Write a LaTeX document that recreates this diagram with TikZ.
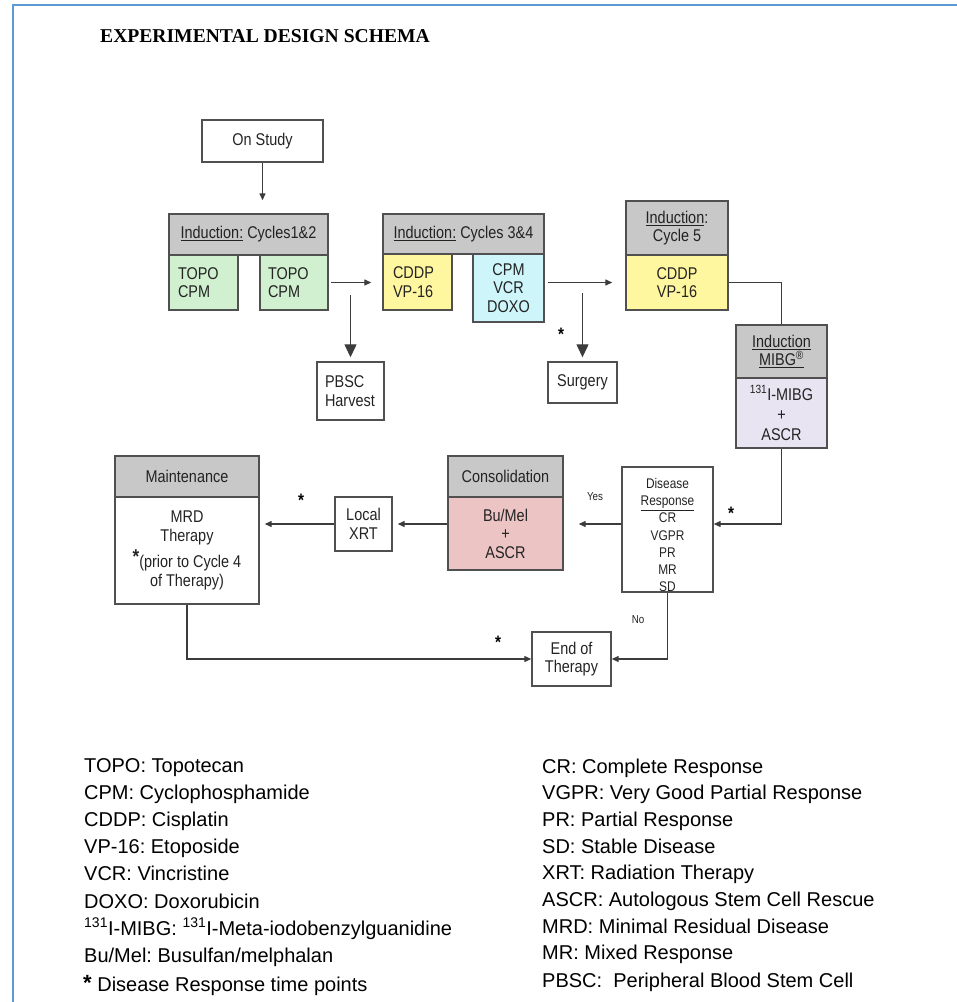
\documentclass[tikz,border=0pt]{standalone}
\usepackage{fontspec}
\setmainfont{Liberation Sans}
\newfontfamily\dfont[FakeStretch=0.85]{Liberation Sans}
\newfontfamily\titlefont{Liberation Serif}
\usetikzlibrary{arrows.meta}
\definecolor{frameblue}{RGB}{91,155,213}
\definecolor{hdrgray}{RGB}{200,200,200}
\definecolor{grn}{RGB}{208,240,208}
\definecolor{ylw}{RGB}{255,246,160}
\definecolor{cyn}{RGB}{205,245,250}
\definecolor{lav}{RGB}{232,228,242}
\definecolor{pnk}{RGB}{236,196,196}
\definecolor{edge}{RGB}{80,80,80}
\definecolor{wire}{RGB}{60,60,60}
\definecolor{ink}{RGB}{35,35,35}
\frenchspacing
\begin{document}
\frenchspacing
\begin{tikzpicture}[x=1pt,y=-1pt,
  box/.style={draw=edge, line width=1.4pt, inner sep=0pt, align=center, text=ink,
    font=\dfont\fontsize{17}{18.5}\selectfont},
  hdr/.style={box, fill=hdrgray},
  wired/.style={draw=wire, line width=1.3pt},
  arr/.style={wired, -{Triangle[length=7pt,width=6pt]}},
  bigarr/.style={wired, -{Triangle[length=13pt,width=12pt]}},
  star/.style={font=\dfont\fontsize{18}{18}\bfseries\selectfont, inner sep=0pt, anchor=base, text=black},
  lbl/.style={font=\dfont\fontsize{11.5}{12}\selectfont, inner sep=0pt, text=ink},
  leg/.style={font=\fontsize{20}{22}\selectfont, inner sep=0pt, anchor=base west, text=black},
]
\useasboundingbox (0,0) rectangle (957,1002);
\draw[frameblue, line width=2pt] (13,1002) -- (13,5) -- (957,5);

\node[anchor=base west, inner sep=0pt, font=\titlefont\bfseries\fontsize{19.6}{20}\selectfont] (title) at (100,42) {EXPERIMENTAL DESIGN SCHEMA};

% boxes
\node[box, minimum width=121pt, minimum height=42pt] (onstudy) at (262.5,141) {On Study};

\node[hdr, minimum width=159pt, minimum height=41pt] (h12) at (248.5,234.5) {\underline{Induction:} Cycles1\&2};
\node[box, fill=grn, minimum width=69pt, minimum height=55pt, text width=51pt, align=left] (g1a) at (203.5,282.5) {TOPO\\CPM};
\node[box, fill=grn, minimum width=68pt, minimum height=55pt, text width=52pt, align=left] (g1b) at (294,282.5) {TOPO\\CPM};

\node[hdr, minimum width=161pt, minimum height=40pt] (h34) at (463.5,234) {\underline{Induction:} Cycles 3\&4};
\node[box, fill=ylw, minimum width=69pt, minimum height=56pt, text width=49pt, align=left] (y34) at (417.5,282) {CDDP\\VP-16};
\node[box, fill=cyn, minimum width=71pt, minimum height=68pt] (c34) at (508.5,288) {CPM\\VCR\\DOXO};

\node[hdr, minimum width=102pt, minimum height=54pt] (h5) at (677,228) {\underline{Induction}:\\Cycle 5};
\node[box, fill=ylw, minimum width=102pt, minimum height=55pt] (y5) at (677,282.5) {CDDP\\VP-16};

\node[hdr, minimum width=91pt, minimum height=53pt] (hm) at (781.5,351.5) {\underline{Induction}\\\underline{MIBG\textsuperscript{®}}};
\node[box, fill=lav, minimum width=91pt, minimum height=70pt, font=\dfont\fontsize{17}{20}\selectfont] (bm) at (781.5,413) {\textsuperscript{131}I-MIBG\\+\\ASCR};

\node[box, minimum width=67pt, minimum height=58pt, text width=51pt, align=left] (pbsc) at (350.5,391) {PBSC\\Harvest};
\node[box, minimum width=69pt, minimum height=41pt] (surg) at (582.5,382.5) {Surgery};

\node[box, minimum width=91pt, minimum height=125pt] (dr) at (667.5,529.5) {};
\node[font=\dfont\fontsize{14}{17.3}\selectfont, align=center, inner sep=0pt, text=ink] (drtext) at (667.5,535) {Disease\\\underline{Response}\\CR\\VGPR\\PR\\MR\\SD};

\node[hdr, minimum width=115pt, minimum height=41pt] (ch) at (505.5,476.5) {Consolidation};
\node[box, fill=pnk, minimum width=115pt, minimum height=73pt] (cb) at (505.5,533.5) {Bu/Mel\\+\\ASCR};
\node[box, minimum width=57pt, minimum height=54pt] (xrt) at (363.5,524) {Local\\XRT};
\node[hdr, minimum width=144pt, minimum height=41pt] (mh) at (187,476.5) {Maintenance};
\node[box, minimum width=144pt, minimum height=107pt] (mb) at (187,550.5) {MRD\\Therapy\\[4pt]{\bfseries\fontsize{20}{20}\selectfont\raisebox{4pt}{*}}(prior to Cycle 4\\of Therapy)};
\node[box, minimum width=79pt, minimum height=54pt] (eot) at (571.5,659) {End of\\Therapy};

% connectors
\draw[arr, shorten >=13pt] (onstudy.south) -- (onstudy.south |- h12.north);
\draw[arr, shorten <=2pt, shorten >=11pt] (g1b.east) -- (g1b.east -| y34.west);
\coordinate (pb0) at (350.5,295);
\draw[bigarr, shorten >=4pt] (pb0) -- (pbsc.north);
\draw[arr, shorten <=3pt, shorten >=13pt] (c34.east |- y5.west) -- (y5.west);
\coordinate (sg0) at (582.5,293);
\draw[bigarr, shorten >=4pt] (sg0) -- (surg.north);
\node[star] (s1) at (561,340) {*};
\draw[wired] (y5.east) -| (hm.north);
\draw[arr] (bm.south) |- (dr.east |- xrt.center);
\node[star] (s2) at (731,519) {*};
\draw[arr, shorten >=15pt] (dr.west |- xrt.center) -- (cb.east |- xrt.center);
\node[lbl] (yes) at (595,497) {Yes};
\draw[arr, shorten >=5pt] (cb.west |- xrt.center) -- (xrt.east);
\draw[arr, shorten >=5pt] (xrt.west) -- (mb.east |- xrt.center);
\node[star] (s3) at (301,506) {*};
\draw[arr] (mb.south) |- (eot.west);
\node[star] (s4) at (498,648) {*};
\draw[arr] (dr.south) |- (eot.east);
\node[lbl] (no) at (638,620) {No};

% legend left
\node[leg] (l1) at (84,772) {TOPO: Topotecan};
\node[leg] (l2) at (84,799.2) {CPM: Cyclophosphamide};
\node[leg] (l3) at (84,826.4) {CDDP: Cisplatin};
\node[leg] (l4) at (84,853.6) {VP-16: Etoposide};
\node[leg] (l5) at (84,880.8) {VCR: Vincristine};
\node[leg] (l6) at (84,908) {DOXO: Doxorubicin};
\node[leg] (l7) at (84,935.2) {\textsuperscript{131}I-MIBG: \textsuperscript{131}I-Meta-iodobenzylguanidine};
\node[leg] (l8) at (84,962.4) {Bu/Mel: Busulfan/melphalan};
\node[leg] (l9) at (83,991) {{\bfseries\fontsize{22}{22}\selectfont\raisebox{1pt}{*}} Disease Response time points};
% legend right
\node[leg] (r1) at (542,773) {CR: Complete Response};
\node[leg] (r2) at (542,799.7) {VGPR: Very Good Partial Response};
\node[leg] (r3) at (542,826.4) {PR: Partial Response};
\node[leg] (r4) at (542,853.1) {SD: Stable Disease};
\node[leg] (r5) at (542,879.8) {XRT: Radiation Therapy};
\node[leg] (r6) at (542,906.5) {ASCR: Autologous Stem Cell Rescue};
\node[leg] (r7) at (542,933.2) {MRD: Minimal Residual Disease};
\node[leg] (r8) at (542,959.9) {MR: Mixed Response};
\node[leg] (r9) at (542,987) {PBSC:\ \ Peripheral Blood Stem Cell};
\end{tikzpicture}
\end{document}
